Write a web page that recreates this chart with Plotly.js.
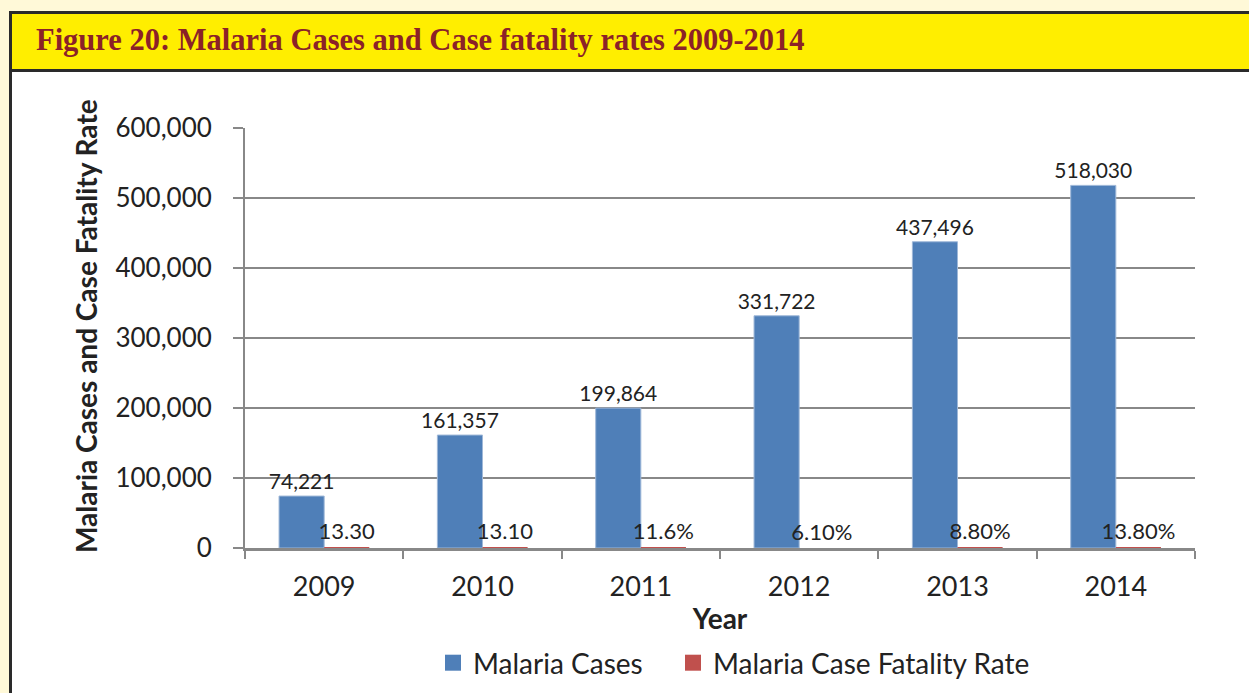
<!DOCTYPE html>
<html>
<head>
<meta charset="utf-8">
<script src="https://cdn.plot.ly/plotly-3.0.1.min.js"></script>
<style>
  html, body { margin: 0; padding: 0; background: #fff9d8; }
  #plot { width: 1249px; height: 693px; }
</style>
</head>
<body>
<div id="plot"></div>
<script>
var years = ["2009", "2010", "2011", "2012", "2013", "2014"];
var cases = [74221, 161357, 199864, 331722, 437496, 518030];
var caseLabels = ["74,221", "161,357", "199,864", "331,722", "437,496", "518,030"];
var fatality = [13.3, 13.1, 11.6, 6.1, 8.8, 13.8];
var fatalityLabels = ["13.30", "13.10", "11.6%", "6.10%", "8.80%", "13.80%"];

// plot area in pixels: x 245..1195, y 128..548
var L = 245, R = 1195, T = 128, B = 548;
function px(x) { return (x - L) / (R - L); }
function py(y) { return (B - y) / (B - T); }

var font = "Lato, 'Open Sans', sans-serif";
var txt = "#222222";
var grid = "#888888";
var blue = "#4f7fb8", red = "#c0504d";

var trace1 = {
  x: years,
  y: cases,
  name: "Malaria Cases",
  type: "bar",
  showlegend: false,
  marker: {color: blue, line: {color: "#9fb8d8", width: 1}},
  text: caseLabels,
  textposition: "outside",
  textfont: {family: font, size: 21, color: txt},
  constraintext: "none",
  cliponaxis: false,
  hoverinfo: "x+y"
};

var trace2 = {
  x: years,
  y: fatality,
  name: "Malaria Case Fatality Rate",
  type: "bar",
  showlegend: false,
  marker: {color: red, line: {width: 0}},
  text: fatalityLabels,
  textposition: "outside",
  textfont: {family: font, size: 22, color: txt},
  constraintext: "none",
  cliponaxis: false,
  hoverinfo: "x+y"
};

// legend entries with bigger square swatches, one legend each
var leg1 = {x: [null], y: [null], type: "scatter", mode: "markers", name: "Malaria Cases",
  legend: "legend", marker: {symbol: "square", size: 17, color: blue}, hoverinfo: "skip"};
var leg2 = {x: [null], y: [null], type: "scatter", mode: "markers", name: "Malaria Case Fatality Rate",
  legend: "legend2", marker: {symbol: "square", size: 17, color: red}, hoverinfo: "skip"};

function legendAt(left) {
  return {
    orientation: "h",
    x: px(left), xanchor: "left",
    y: py(663), yanchor: "middle",
    bgcolor: "rgba(0,0,0,0)",
    font: {family: font, size: 28, color: txt},
    itemwidth: 30
  };
}

var layout = {
  width: 1249,
  height: 693,
  margin: {l: L, r: 1249 - R, t: T, b: 693 - B, pad: 0, autoexpand: false},
  paper_bgcolor: "#fff9d8",
  plot_bgcolor: "rgba(0,0,0,0)",
  barmode: "group",
  bargap: 0.43,
  bargroupgap: 0,
  showlegend: true,
  legend: legendAt(433),
  legend2: legendAt(673),
  font: {family: font, color: txt},
  xaxis: {
    type: "category",
    showline: true,
    linecolor: grid,
    linewidth: 3,
    ticks: "outside",
    tickson: "boundaries",
    ticklen: 8,
    tickwidth: 2,
    tickcolor: grid,
    ticklabelstandoff: 13,
    tickfont: {family: font, size: 27, color: txt},
    title: {text: "<b>Year</b>", font: {family: font, size: 28, color: txt}, standoff: 8}
  },
  yaxis: {
    range: [0, 600000],
    dtick: 100000,
    tickformat: ",",
    showgrid: true,
    gridcolor: grid,
    gridwidth: 2,
    showline: true,
    linecolor: grid,
    linewidth: 2,
    ticks: "outside",
    ticklen: 10,
    tickwidth: 2,
    tickcolor: grid,
    ticklabelstandoff: 16,
    tickfont: {family: font, size: 26, color: txt},
    zeroline: false
  },
  shapes: [
    {type: "rect", xref: "paper", yref: "paper", layer: "below",
     x0: px(10.5), x1: px(1270), y0: py(12.5), y1: py(720),
     fillcolor: "#ffffff", line: {color: "#2a2a2a", width: 3}},
    {type: "rect", xref: "paper", yref: "paper", layer: "below",
     x0: px(10.5), x1: px(1270), y0: py(12.5), y1: py(70.5),
     fillcolor: "#ffee00", line: {color: "#2a2a2a", width: 3}}
  ],
  annotations: [
    {xref: "paper", yref: "paper", x: px(34), y: py(40), xanchor: "left", yanchor: "middle",
     showarrow: false, text: "<b>Figure 20: Malaria Cases and Case fatality rates 2009-2014</b>",
     font: {family: "'Liberation Serif', 'DejaVu Serif', serif", size: 30.5, color: "#8b2228"}},
    {xref: "paper", yref: "paper", x: px(86), y: py(326), xanchor: "center", yanchor: "middle",
     showarrow: false, textangle: -90, text: "<b>Malaria Cases and Case Fatality Rate</b>",
     font: {family: font, size: 28, color: txt}}
  ]
};

Plotly.newPlot("plot", [trace1, trace2, leg1, leg2], layout, {displayModeBar: false});
</script>
</body>
</html>
